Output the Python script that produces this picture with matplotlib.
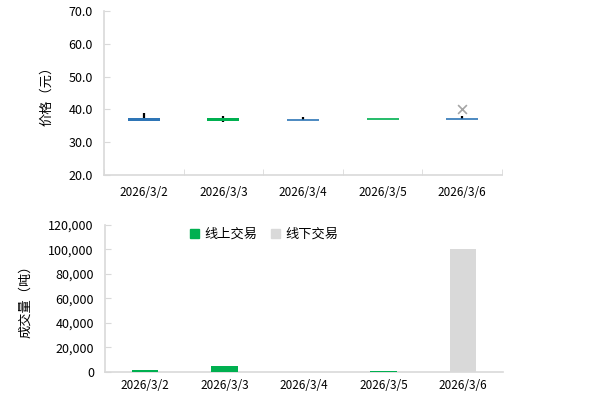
import matplotlib
matplotlib.use("Agg")
import matplotlib.pyplot as plt
from matplotlib.patches import Patch
import numpy as np

plt.rcParams['font.family'] = ['Noto Sans CJK SC', 'DejaVu Sans']

dates = ["2026/3/2", "2026/3/3", "2026/3/4", "2026/3/5", "2026/3/6"]
open_p = [37.5, 36.6, 36.7, 37.1, 37.1]
close_p = [36.6, 37.5, 36.7, 37.1, 37.1]
high_p = [38.9, 37.9, 37.7, 37.1, 38.0]
low_p = [36.6, 36.1, 36.7, 37.1, 37.1]
box_colors = ["#2E75B6", "#00B050", "#2E75B6", "#00B050", "#2E75B6"]
mark_idx = [4]
mark_val = [40.0]

online = [1000, 5000, 0, 900, 0]
offline = [0, 0, 0, 0, 100000]

fig = plt.figure(figsize=(5.95, 4.09), dpi=100)
spine_c = "#D9D9D9"

# --- top price chart ---
ax1 = fig.add_axes([104/595, 1-175/409, 398/595, 164/409])
x = np.arange(len(dates))
for i in x:
    ax1.vlines(i, low_p[i], high_p[i], color="black", lw=1.6, zorder=2)
    lo = min(open_p[i], close_p[i]); hi = max(open_p[i], close_p[i])
    h = hi - lo
    if h < 0.05:
        ax1.hlines(lo, i-0.2, i+0.2, color=box_colors[i], lw=1.2, zorder=3)
    else:
        ax1.bar(i, h, bottom=lo, width=0.4, color=box_colors[i], zorder=3)
ax1.scatter(mark_idx, mark_val, marker='x', color="#A6A6A6", s=40, lw=1.2, zorder=4)
ax1.set_xlim(-0.5, len(dates)-0.5)
ax1.set_ylim(20, 70)
ax1.set_yticks(np.arange(20, 71, 10))
ax1.set_yticklabels([f"{v:.1f}" for v in np.arange(20, 71, 10)], fontsize=9)
ax1.set_xticks(x)
ax1.set_xticklabels(dates, fontsize=8.5)
ax1.set_xticks(np.arange(-0.5, len(dates)), minor=True)
ax1.tick_params(axis='x', which='major', length=0, pad=8)
ax1.tick_params(axis='x', which='minor', length=4, direction='in', color=spine_c)
ax1.tick_params(axis='y', length=4, direction='in', color=spine_c, pad=8)
for s in ['top', 'right']:
    ax1.spines[s].set_visible(False)
for s in ['left', 'bottom']:
    ax1.spines[s].set_color(spine_c)
    ax1.spines[s].set_linewidth(1.2)
ax1.set_ylabel("价格（元）", fontsize=9.5, labelpad=11)

# --- bottom volume chart ---
ax2 = fig.add_axes([105/595, 1-371.7/409, 398/595, 146.7/409])
ax2.bar(x, online, width=0.33, color="#00B050", label="线上交易", zorder=3)
ax2.bar(x, offline, width=0.33, bottom=online, color="#D9D9D9", label="线下交易", zorder=3)
ax2.set_xlim(-0.5, len(dates)-0.5)
ax2.set_ylim(0, 120000)
yt = np.arange(0, 120001, 20000)
ax2.set_yticks(yt)
ax2.set_yticklabels([f"{v:,}" for v in yt], fontsize=9)
ax2.set_xticks(x)
ax2.set_xticklabels(dates, fontsize=8.5)
ax2.tick_params(axis='x', length=0, pad=5)
ax2.tick_params(axis='y', length=4, direction='in', color=spine_c, pad=8)
for s in ['top', 'right']:
    ax2.spines[s].set_visible(False)
for s in ['left', 'bottom']:
    ax2.spines[s].set_color(spine_c)
    ax2.spines[s].set_linewidth(1.2)
ax2.set_ylabel("成交量（吨）", fontsize=9.5, labelpad=12)
handles = [Patch(color="#00B050", label="线上交易"), Patch(color="#D9D9D9", label="线下交易")]
ax2.legend(handles=handles, loc='upper center', bbox_to_anchor=(0.40, 1.06), ncol=2,
           frameon=False, fontsize=9.5, handlelength=0.7, handleheight=0.7,
           handletextpad=0.4, columnspacing=1.0)

fig.savefig("out.png", dpi=100)
